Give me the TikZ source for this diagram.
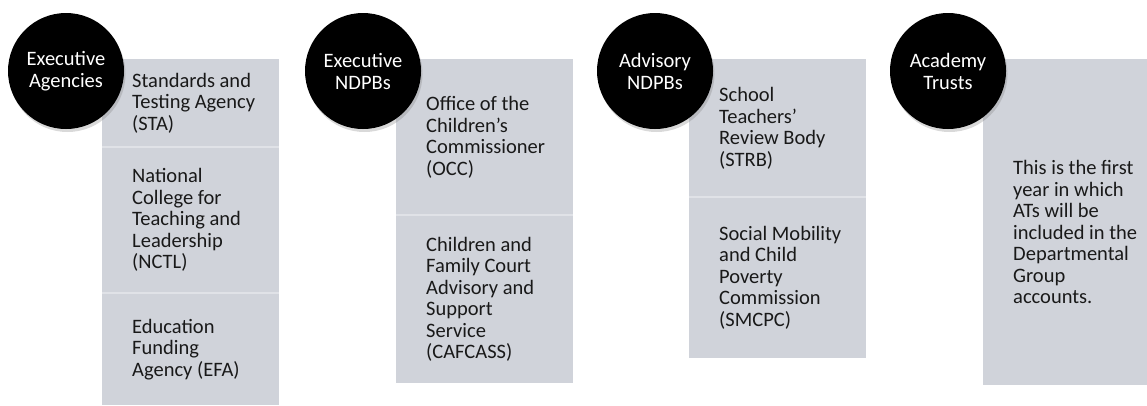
\documentclass[tikz,border=0pt]{standalone}
\usepackage{fontspec}
\setmainfont{Carlito}
\usetikzlibrary{shadows}

\definecolor{panelgray}{RGB}{208,211,218}
\definecolor{inkgray}{RGB}{25,25,25}

\tikzset{
  tag/.style={circle, fill=black, text=white, minimum size=116pt, inner sep=0pt,
    align=center, font=\fontsize{20.5}{22}\selectfont,
    drop shadow={shadow xshift=1.5pt, shadow yshift=-3pt, opacity=0.3}},
  panel/.style={fill=panelgray, minimum width=177pt, anchor=north west, inner sep=0pt},
  entry/.style={anchor=west, align=left, text=inkgray, inner sep=0pt,
    font=\fontsize{20.5}{21.5}\selectfont},
  divider/.style={draw=white!35!panelgray, line width=1.5pt}
}

\begin{document}
\begin{tikzpicture}[x=1pt,y=-1pt]
  \useasboundingbox (0,0) rectangle (1147,405);

  % executive agencies
  \node[panel, minimum height=88pt]  (sta)  at (102,59)  {};
  \node[panel, minimum height=146pt] (nctl) at (102,147) {};
  \node[panel, minimum height=112pt] (efa)  at (102,293) {};
  \draw[divider] (nctl.north west) -- (nctl.north east);
  \draw[divider] (efa.north west) -- (efa.north east);
  \node[entry] (staText)  at ([xshift=30pt]sta.west)  {Standards and\\Testing Agency\\(STA)};
  \node[entry] (nctlText) at ([xshift=30pt]nctl.west) {National\\College for\\Teaching and\\Leadership\\(NCTL)};
  \node[entry] (efaText)  at ([xshift=30pt]efa.west)  {Education\\Funding\\Agency (EFA)};

  % executive NDPBs
  \node[panel, minimum height=156pt] (occ) at (396,59)  {};
  \node[panel, minimum height=168pt] (caf) at (396,215) {};
  \draw[divider] (caf.north west) -- (caf.north east);
  \node[entry] (occText) at ([xshift=30pt]occ.west) {Office of the\\Children’s\\Commissioner\\(OCC)};
  \node[entry] (cafText) at ([xshift=30pt]caf.west) {Children and\\Family Court\\Advisory and\\Support\\Service\\(CAFCASS)};

  % advisory NDPBs
  \node[panel, minimum height=138pt] (strb)  at (689,59)  {};
  \node[panel, minimum height=161pt] (smcpc) at (689,197) {};
  \draw[divider] (smcpc.north west) -- (smcpc.north east);
  \node[entry] (strbText)  at ([xshift=30pt]strb.west)  {School\\Teachers’\\Review Body\\(STRB)};
  \node[entry] (smcpcText) at ([xshift=30pt]smcpc.west) {Social Mobility\\and Child\\Poverty\\Commission\\(SMCPC)};

  % academy trusts
  \node[panel, minimum width=164pt, minimum height=326pt] (at) at (983,59) {};
  \node[entry] (atText) at ([xshift=30pt,yshift=-10pt]at.west) {This is the first\\year in which\\ATs will be\\included in the\\Departmental\\Group\\accounts.};

  % round headings on top
  \node[tag] (ea)  at (66,71)  {Executive\\Agencies};
  \node[tag] (en)  at (363,71) {Executive\\NDPBs};
  \node[tag] (an)  at (655,71) {Advisory\\NDPBs};
  \node[tag] (act) at (948,71) {Academy\\Trusts};
\end{tikzpicture}
\end{document}
